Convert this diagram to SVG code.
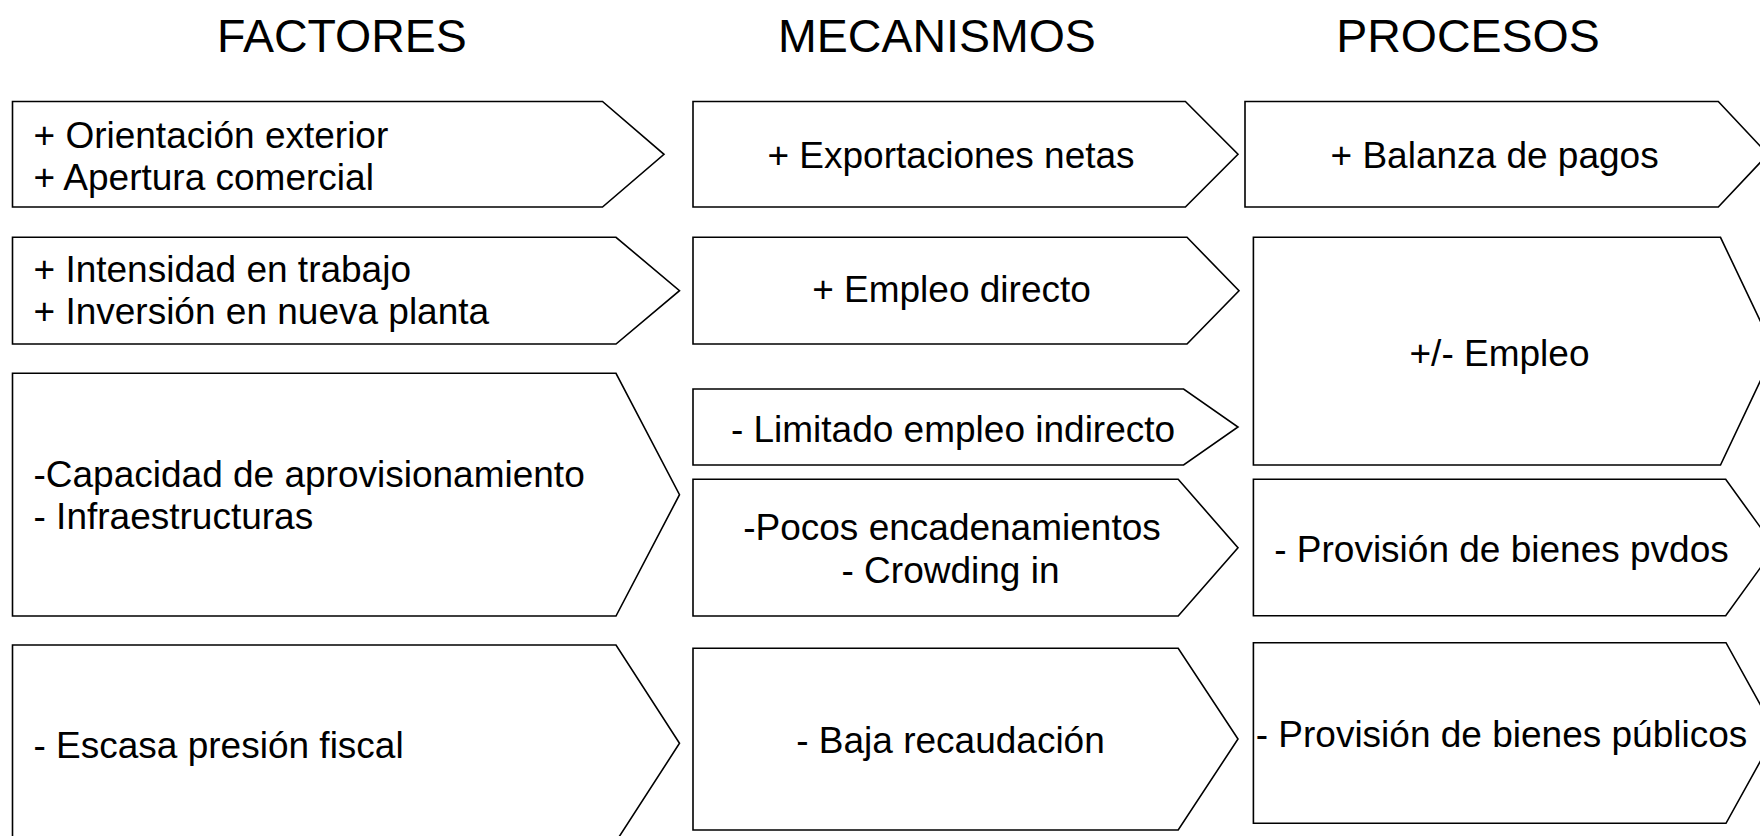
<svg xmlns="http://www.w3.org/2000/svg" width="1760" height="836" viewBox="0 0 1760 836">
<style>
.box{fill:#fff;stroke:#000;stroke-width:1.6;stroke-linejoin:miter}
.hd{font-family:"Liberation Sans",Arial,sans-serif;font-size:46.5px;fill:#000;text-anchor:middle}
.t{font-family:"Liberation Sans",Arial,sans-serif;font-size:37px;fill:#000}
.c{text-anchor:middle}
</style>
<rect width="1760" height="836" fill="#fff"/>
<g id="headers">
<text class="hd" x="342" y="52.3">FACTORES</text>
<text class="hd" x="937" y="52.3">MECANISMOS</text>
<text class="hd" x="1468" y="52.3">PROCESOS</text>
</g>
<g id="connectors"/>
<g id="f1"><polygon class="box" points="12.5,101.5 602.5,101.5 664,154.3 602.5,207 12.5,207"/>
<text class="t" x="33.5" y="147.5">+ Orientación exterior</text>
<text class="t" x="33.5" y="190">+ Apertura comercial</text></g>
<g id="f2"><polygon class="box" points="12.5,237.3 616,237.3 679.5,290.7 616,344 12.5,344"/>
<text class="t" x="33.5" y="281.7">+ Intensidad en trabajo</text>
<text class="t" x="33.5" y="324">+ Inversión en nueva planta</text></g>
<g id="f3"><polygon class="box" points="12.5,373.3 616,373.3 679.5,494.7 616,616 12.5,616"/>
<text class="t" x="33.5" y="486.7">-Capacidad de aprovisionamiento</text>
<text class="t" x="33.5" y="528.5">- Infraestructuras</text></g>
<g id="f4"><polygon class="box" points="12.5,645 616,645 679.5,743.3 616,841.6 12.5,841.6"/>
<text class="t" x="33.5" y="758.3">- Escasa presión fiscal</text></g>
<g id="m1"><polygon class="box" points="693,101.5 1185.4,101.5 1238,154.3 1185.4,207 693,207"/>
<text class="t c" x="951" y="168">+ Exportaciones netas</text></g>
<g id="m2"><polygon class="box" points="693,237.3 1187,237.3 1239,290.7 1187,344 693,344"/>
<text class="t c" x="951.5" y="301.7">+ Empleo directo</text></g>
<g id="m3"><polygon class="box" points="693,389 1183.6,389 1238,427 1183.6,465 693,465"/>
<text class="t c" x="953" y="441.7">- Limitado empleo indirecto</text></g>
<g id="m4"><polygon class="box" points="693,479.3 1178.2,479.3 1238,547.7 1178.2,616 693,616"/>
<text class="t c" x="952" y="540">-Pocos encadenamientos</text>
<text class="t c" x="950.5" y="582.7">- Crowding in</text></g>
<g id="m5"><polygon class="box" points="693,648.3 1178.2,648.3 1238,739 1178.2,830 693,830"/>
<text class="t c" x="950.5" y="753.3">- Baja recaudación</text></g>
<g id="p1"><polygon class="box" points="1245,101.5 1718.3,101.5 1768,154.3 1718.3,207 1245,207"/>
<text class="t c" x="1494.6" y="168">+ Balanza de pagos</text></g>
<g id="p2"><polygon class="box" points="1253.4,237.3 1720.5,237.3 1774.5,351 1720.5,465 1253.4,465"/>
<text class="t c" x="1499.5" y="366">+/- Empleo</text></g>
<g id="p3"><polygon class="box" points="1253.4,479.3 1725.7,479.3 1775,547.5 1725.7,615.7 1253.4,615.7"/>
<text class="t c" x="1501.5" y="561.7">- Provisión de bienes pvdos</text></g>
<g id="p4"><polygon class="box" points="1253.4,642.7 1726,642.7 1776,733 1726,823.3 1253.4,823.3"/>
<text class="t c" x="1501.5" y="746.7">- Provisión de bienes públicos</text></g>
</svg>
